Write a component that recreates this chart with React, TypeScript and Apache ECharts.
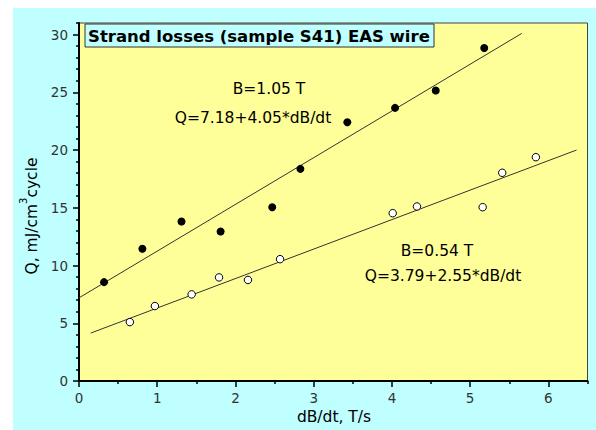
import React, { useEffect, useRef } from "react";
import * as echarts from "echarts";

// B = 1.05 T (filled circles)
const highX = [0.32, 0.81, 1.31, 1.81, 2.47, 2.83, 3.43, 4.04, 4.56, 5.18];
const highY = [8.56, 11.45, 13.81, 12.95, 15.05, 18.37, 22.4, 23.65, 25.15, 28.84];
// B = 0.54 T (open circles)
const lowX = [0.65, 0.97, 1.44, 1.79, 2.16, 2.57, 4.01, 4.32, 5.16, 5.41, 5.84];
const lowY = [5.1, 6.49, 7.5, 8.97, 8.75, 10.55, 14.53, 15.11, 15.05, 18.03, 19.38];
// fit lines (end points as drawn)
const fitHighX = [0, 5.66];
const fitHighY = [7.2, 30.1];
const fitLowX = [0.15, 6.36];
const fitLowY = [4.15, 20.0];
// ticks
const xMajor = [0, 1, 2, 3, 4, 5, 6];
const xMinor = [0.5, 1.5, 2.5, 3.5, 4.5, 5.5, 6.5];
const yMajor = [0, 5, 10, 15, 20, 25, 30];
const yMinor = [
  1, 2, 3, 4, 6, 7, 8, 9, 11, 12, 13, 14, 16, 17, 18, 19, 21, 22, 23, 24, 26, 27, 28, 29, 31,
];

const titleText = "Strand losses (sample S41) EAS wire";
const note1a = "B=1.05 T";
const note1b = "Q=7.18+4.05*dB/dt";
const note2a = "B=0.54 T";
const note2b = "Q=3.79+2.55*dB/dt";
const xName = "dB/dt, T/s";

const FONT = "DejaVu Sans";

const zip = (a: number[], b: number[]) => a.map((v, i) => [v, b[i]]);

export default function App() {
  const ref = useRef<HTMLDivElement>(null);
  useEffect(() => {
    if (!ref.current) return;
    const chart = echarts.init(ref.current, undefined, { renderer: "svg" });
    const tickLabel = { color: "#333", fontFamily: FONT, fontSize: 13.5 };
    chart.setOption({
      animation: false,
      backgroundColor: "#C0FFFF",
      grid: {
        left: 79,
        top: 23,
        width: 508.5,
        height: 358,
        show: true,
        backgroundColor: "#FFFF99",
        borderColor: "#444",
        borderWidth: 1,
      },
      xAxis: [
        {
          type: "value",
          min: 0,
          max: 6.5,
          position: "bottom",
          axisLine: { show: true, onZero: false, lineStyle: { color: "#000", width: 2 } },
          axisTick: { show: true, customValues: xMajor, length: 6, lineStyle: { color: "#000", width: 1.5 } },
          axisLabel: { ...tickLabel, customValues: xMajor, margin: 10 },
          splitLine: { show: false },
        },
        {
          type: "value",
          min: 0,
          max: 6.5,
          position: "bottom",
          axisLine: { show: false },
          axisTick: { show: true, customValues: xMinor, length: 3, lineStyle: { color: "#000", width: 1.5 } },
          axisLabel: { show: false },
          splitLine: { show: false },
        },
      ],
      yAxis: [
        {
          type: "value",
          min: 0,
          max: 31,
          position: "left",
          axisLine: { show: true, onZero: false, lineStyle: { color: "#000", width: 2 } },
          axisTick: { show: true, customValues: yMajor, length: 6, lineStyle: { color: "#000", width: 1.5 } },
          axisLabel: { ...tickLabel, customValues: yMajor, margin: 11 },
          splitLine: { show: false },
        },
        {
          type: "value",
          min: 0,
          max: 31,
          position: "left",
          axisLine: { show: false },
          axisTick: { show: true, customValues: yMinor, length: 3, lineStyle: { color: "#000", width: 1.5 } },
          axisLabel: { show: false },
          splitLine: { show: false },
        },
      ],
      series: [
        {
          type: "line",
          data: zip(fitHighX, fitHighY),
          showSymbol: false,
          symbol: "none",
          lineStyle: { color: "#333", width: 1 },
          z: 2,
        },
        {
          type: "line",
          data: zip(fitLowX, fitLowY),
          showSymbol: false,
          symbol: "none",
          lineStyle: { color: "#333", width: 1 },
          z: 2,
        },
        {
          type: "scatter",
          data: zip(highX, highY),
          symbol: "circle",
          symbolSize: 8,
          itemStyle: { color: "#000", opacity: 1 },
          z: 3,
        },
        {
          type: "scatter",
          data: zip(lowX, lowY),
          symbol: "circle",
          symbolSize: 7.5,
          itemStyle: { color: "#fff", borderColor: "#000", borderWidth: 1, opacity: 1 },
          z: 3,
        },
      ],
      graphic: [
        { type: "rect", shape: { x: 0, y: 0, width: 596, height: 8 }, style: { fill: "#fff" }, silent: true },
        { type: "rect", shape: { x: 0, y: 0, width: 13, height: 430 }, style: { fill: "#fff" }, silent: true },
        {
          type: "rect",
          shape: { x: 85, y: 24, width: 349, height: 23 },
          style: { fill: "#C0FFFF", stroke: "#333", lineWidth: 1 },
          z: 10,
        },
        {
          type: "text",
          x: 88,
          y: 36,
          z: 11,
          style: {
            text: titleText,
            font: `bold 16.5px "${FONT}"`,
            fill: "#000",
            align: "left",
            verticalAlign: "middle",
          },
        },
        {
          type: "text",
          x: 269,
          y: 89,
          z: 11,
          style: { text: note1a, font: `15.5px "${FONT}"`, fill: "#000", align: "center", verticalAlign: "middle" },
        },
        {
          type: "text",
          x: 253,
          y: 118,
          z: 11,
          style: { text: note1b, font: `15.5px "${FONT}"`, fill: "#000", align: "center", verticalAlign: "middle" },
        },
        {
          type: "text",
          x: 437,
          y: 251,
          z: 11,
          style: { text: note2a, font: `15.5px "${FONT}"`, fill: "#000", align: "center", verticalAlign: "middle" },
        },
        {
          type: "text",
          x: 443,
          y: 276,
          z: 11,
          style: { text: note2b, font: `15.5px "${FONT}"`, fill: "#000", align: "center", verticalAlign: "middle" },
        },
        {
          type: "text",
          x: 334,
          y: 417,
          z: 11,
          style: { text: xName, font: `15.5px "${FONT}"`, fill: "#000", align: "center", verticalAlign: "middle" },
        },
        {
          type: "text",
          x: 29,
          y: 216,
          rotation: Math.PI / 2,
          z: 11,
          style: {
            text: "{b|Q, mJ/cm}{s|3}{b|cycle}",
            align: "center",
            verticalAlign: "middle",
            fill: "#000",
            rich: {
              b: { fontFamily: FONT, fontSize: 15.5, color: "#000", lineHeight: 22, verticalAlign: "bottom" },
              s: { fontFamily: FONT, fontSize: 10, color: "#000", lineHeight: 22, verticalAlign: "top" },
            },
          },
        },
      ],
    });
    return () => chart.dispose();
  }, []);
  return (
    <div
      ref={ref}
      style={{ position: "fixed", left: 0, top: 0, width: 596, height: 430 }}
    />
  );
}
